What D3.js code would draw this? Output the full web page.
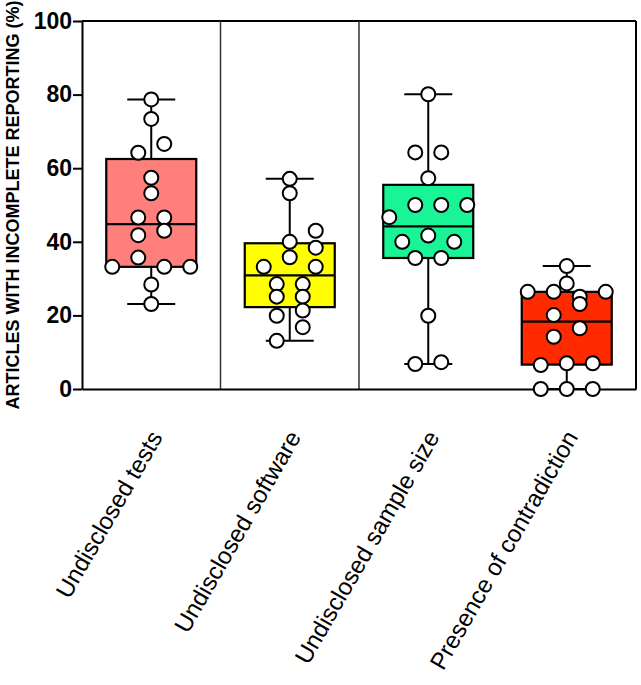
<!DOCTYPE html>
<html>
<head>
<meta charset="utf-8">
<script src="https://cdn.jsdelivr.net/npm/d3@7"></script>
<style>
body{margin:0;background:#fff}
svg{display:block}
</style>
</head>
<body>
<svg id="chart" width="641" height="685"></svg>
<script>
var categories = ["Undisclosed tests","Undisclosed software","Undisclosed sample size","Presence of contradiction"]
var boxColors = ["#ff7f7c","#ffff00","#19f596","#ff2a00"]
var yTicks = [0,20,40,60,80,100]
// dividers drawn after these categories only
var dividerAfter = ["Undisclosed tests","Undisclosed software"]

// % of articles, one dot per journal; lane = beeswarm column of the dot
var testsVals = [78.7,73.4,66.6,64.2,57.4,53.2,46.6,46.6,43.0,41.8,35.7,33.2,33.2,33.2,28.4,23.1]
var testsLane = [0,0,1,-1,0,0,-1,1,1,-1,-1,-3,1,3,0,0]
var softwareVals = [57.1,53.2,43.0,40.0,38.4,35.8,33.2,33.2,28.5,28.5,25.1,25.1,21.3,19.9,16.8,13.1]
var softwareLane = [0,0,2,0,2,0,-2,2,-1,1,-1,1,1,-1,1,-1]
var sampleVals = [80.1,64.3,64.3,57.3,50.0,50.0,50.0,46.7,41.7,40.0,40.0,35.6,35.6,19.9,6.8,7.3]
var sampleLane = [0,-1,1,0,-1,1,3,-3,0,-2,2,-1,1,0,-1,1]
var contraVals = [33.4,28.7,26.4,26.4,26.4,25.1,23.1,20.1,16.5,14.2,6.5,7.0,7.0,0,0,0]
var contraLane = [0,0,-3,-1,3,1,1,-1,1,-1,-2,0,2,-2,0,2]

var allVals = [testsVals,softwareVals,sampleVals,contraVals]
var allLanes = [testsLane,softwareLane,sampleLane,contraLane]

var svg = d3.select("#chart")
var mLeft = 82, mRight = 636, mTop = 21, mBottom = 389
var font = "Arial, 'Liberation Sans', Helvetica, sans-serif"

var x = d3.scaleBand().domain(categories).range([mLeft,mRight]).padding(0)
var y = d3.scaleLinear().domain([0,100]).range([mBottom,mTop])

var boxW = 90, capW = 48, r = 7, laneStep = 13

// quartiles the GraphPad way, position (n+1)p
function quart(s, p)
{
    var n = s.length, pos = (n+1)*p, i = Math.floor(pos), f = pos-i
    if(i < 1) return s[0]
    if(i >= n) return s[n-1]
    return s[i-1] + f*(s[i]-s[i-1])
}

var stats = categories.map(function(c, k)
{
    var s = allVals[k].slice().sort(d3.ascending)
    return {cat:c, color:boxColors[k], min:s[0], q1:quart(s,0.25), med:quart(s,0.5), q3:quart(s,0.75), max:s[s.length-1]}
})

// frame + dividers
svg.append("line").attr("x1",mLeft).attr("x2",mRight).attr("y1",mTop).attr("y2",mTop)
    .attr("stroke","#000").attr("stroke-width",2)
svg.append("line").attr("x1",mRight).attr("x2",mRight).attr("y1",mTop).attr("y2",mBottom)
    .attr("stroke","#000").attr("stroke-width",2)
svg.selectAll(".divider").data(dividerAfter).enter().append("line")
    .attr("class","divider")
    .attr("x1",function(d){return x(d)+x.bandwidth()})
    .attr("x2",function(d){return x(d)+x.bandwidth()})
    .attr("y1",mTop).attr("y2",mBottom)
    .attr("stroke","#333").attr("stroke-width",1.5)

// bottom axis with rotated labels
var xAxis = svg.append("g").attr("transform","translate(0,"+mBottom+")")
    .call(d3.axisBottom(x).tickSize(0).tickSizeOuter(0))
xAxis.select(".domain").attr("stroke","#000").attr("stroke-width",2)
xAxis.selectAll("text")
    .attr("x",0).attr("y",0).attr("dy",0)
    .attr("transform","translate(12,48) rotate(-60)")
    .style("text-anchor","end")
    .style("font-family",font).style("font-size","24px").attr("fill","#000")

// left axis
var yAxis = svg.append("g").attr("transform","translate("+mLeft+",0)")
    .call(d3.axisLeft(y).tickValues(yTicks).tickSize(9).tickSizeOuter(0).tickPadding(1))
yAxis.select(".domain").attr("stroke","#000").attr("stroke-width",2)
yAxis.selectAll(".tick line").attr("stroke","#000").attr("stroke-width",2)
yAxis.selectAll("text").style("font-family",font).style("font-size","23px")
    .style("font-weight","bold").attr("fill","#000")

svg.append("text")
    .attr("transform","translate(19,"+((mTop+mBottom)/2)+") rotate(-90)")
    .attr("text-anchor","middle")
    .style("font-family",font).style("font-size","18px").style("font-weight","bold")
    .text("ARTICLES WITH INCOMPLETE REPORTING (%)")

// boxes
var g = svg.selectAll(".box").data(stats).enter().append("g")
    .attr("class","box")
    .attr("transform",function(d){return "translate("+(x(d.cat)+x.bandwidth()/2)+",0)"})

g.append("line").attr("x1",0).attr("x2",0)
    .attr("y1",function(d){return y(d.max)}).attr("y2",function(d){return y(d.min)})
    .attr("stroke","#000").attr("stroke-width",2)
g.append("rect")
    .attr("x",-boxW/2).attr("width",boxW)
    .attr("y",function(d){return y(d.q3)})
    .attr("height",function(d){return y(d.q1)-y(d.q3)})
    .attr("fill",function(d){return d.color})
    .attr("stroke","#000").attr("stroke-width",2.2)
g.append("line").attr("x1",-boxW/2).attr("x2",boxW/2)
    .attr("y1",function(d){return y(d.med)}).attr("y2",function(d){return y(d.med)})
    .attr("stroke","#000").attr("stroke-width",2.2)
g.append("line").attr("x1",-capW/2).attr("x2",capW/2)
    .attr("y1",function(d){return y(d.max)}).attr("y2",function(d){return y(d.max)})
    .attr("stroke","#000").attr("stroke-width",2)
g.append("line").attr("x1",-capW/2).attr("x2",capW/2)
    .attr("y1",function(d){return y(d.min)}).attr("y2",function(d){return y(d.min)})
    .attr("stroke","#000").attr("stroke-width",2)

// dots
g.selectAll("circle")
    .data(function(d, k){return allVals[k].map(function(v, j){return {v:v, lane:allLanes[k][j]}})})
    .enter().append("circle")
    .attr("cx",function(d){return d.lane*laneStep})
    .attr("cy",function(d){return y(d.v)})
    .attr("r",r)
    .attr("fill","#fff").attr("stroke","#000").attr("stroke-width",2)
</script>
</body>
</html>
